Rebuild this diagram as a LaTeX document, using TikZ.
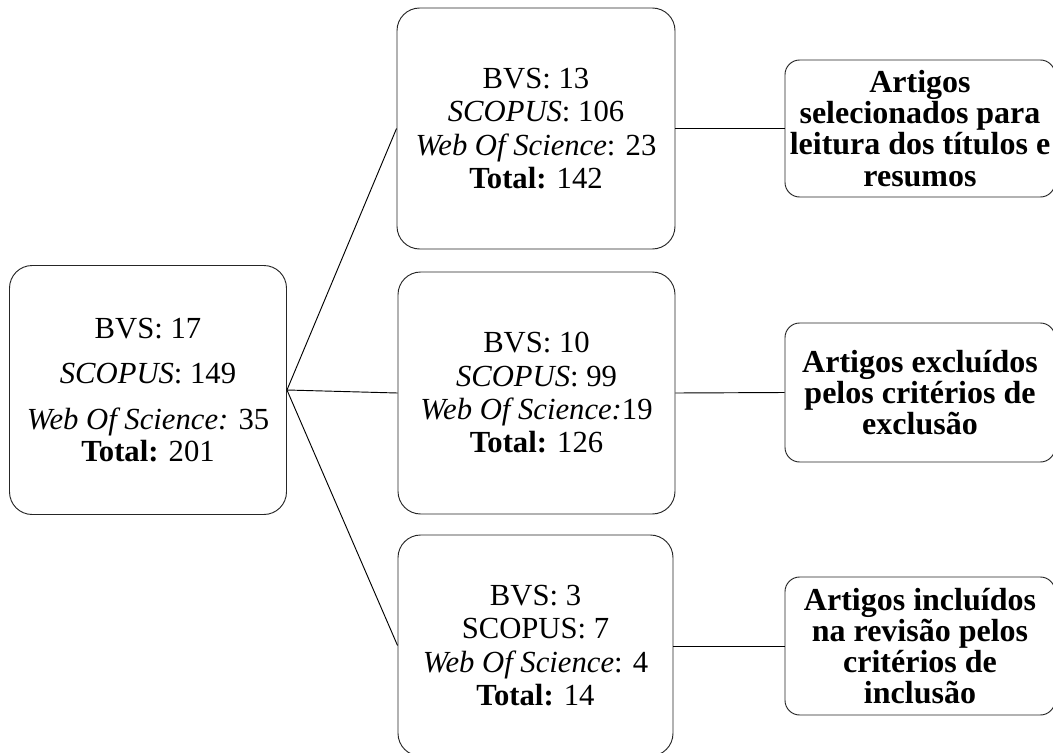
\documentclass[tikz,border=0pt]{standalone}
\usepackage{fontspec}
\setmainfont{Liberation Serif}
\begin{document}
\begin{tikzpicture}[x=0.75pt,y=-0.75pt,
  box/.style={draw=black!85,line width=0.7pt,rounded corners=17pt,inner sep=0pt,align=center,font=\fontsize{23}{25}\selectfont},
  rbox/.style={draw=black!85,line width=0.7pt,rounded corners=11pt,inner sep=0pt,align=center,font=\fontsize{24}{23.3}\selectfont\bfseries},
  link/.style={draw=black,line width=0.7pt}]
\useasboundingbox (0,0) rectangle (1053,753);
\node[box,minimum width=277*0.75pt,minimum height=249*0.75pt] (L) at (148,390)
  {BVS: 17\\[9pt] \textit{SCOPUS}: 149\\[9pt] \textit{Web Of Science:} 35\\[-1pt] \textbf{Total:} 201};
\node[box,minimum width=278*0.75pt,minimum height=241*0.75pt] (M1) at (536,128.5)
  {BVS: 13\\ \textit{SCOPUS}: 106\\ \textit{Web Of Science}: 23\\ \textbf{Total:} 142};
\node[box,minimum width=277*0.75pt,minimum height=242*0.75pt] (M2) at (536.5,393)
  {BVS: 10\\ \textit{SCOPUS}: 99\\ \textit{Web Of Science:}19\\ \textbf{Total:} 126};
\node[box,minimum width=275*0.75pt,minimum height=221*0.75pt] (M3) at (535.5,645.5)
  {BVS: 3\\ SCOPUS: 7\\ \textit{Web Of Science}: 4\\ \textbf{Total:} 14};
\node[rbox,minimum width=270*0.75pt,minimum height=137*0.75pt] (R1) at (920,128.5)
  {Artigos\\ selecionados para\\ leitura dos títulos e\\ resumos};
\node[rbox,minimum width=270*0.75pt,minimum height=139*0.75pt] (R2) at (920,392.5)
  {Artigos excluídos\\ pelos critérios de\\ exclusão};
\node[rbox,minimum width=270*0.75pt,minimum height=138*0.75pt] (R3) at (920,646)
  {Artigos incluídos\\ na revisão pelos\\ critérios de\\ inclusão};
\draw[link] (L.east) -- (M1.west);
\draw[link] (L.east) -- (M2.west);
\draw[link] (L.east) -- (M3.west);
\draw[link] (M1.east) -- (R1.west);
\draw[link] (M2.east) -- (R2.west);
\draw[link] (M3.east |- R3.west) -- (R3.west);
\end{tikzpicture}
\end{document}
